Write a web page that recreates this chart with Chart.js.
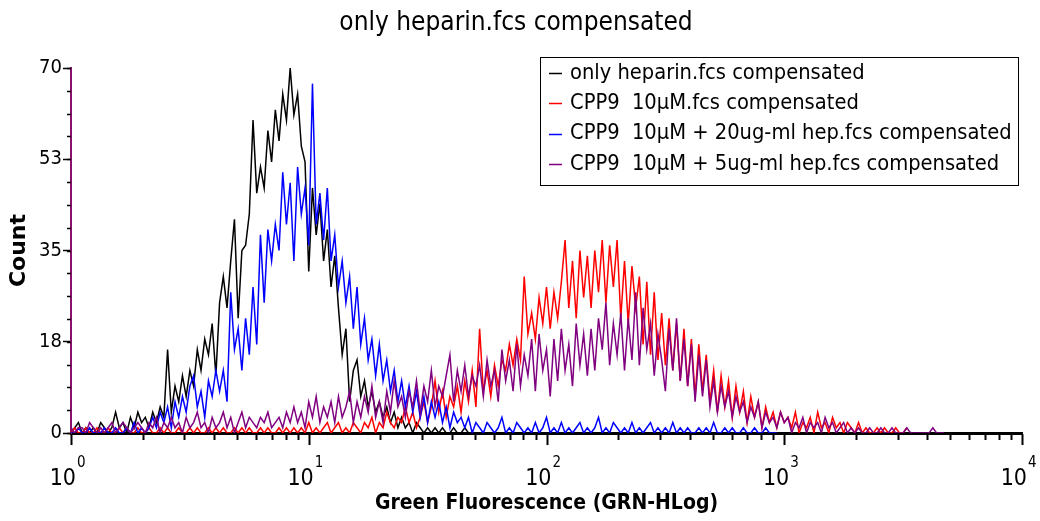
<!DOCTYPE html>
<html>
<head>
<meta charset="utf-8">
<script src="https://cdn.jsdelivr.net/npm/chart.js@4.4.1/dist/chart.umd.min.js"></script>
<style>
html, body { margin: 0; padding: 0; background: #fff; }
</style>
</head>
<body>
<canvas id="histo" width="1040" height="521"></canvas>
<script>
"use strict";

// channel layout of the log axis: 64 channels per decade, starting at 10^0
const CHANNELS_PER_DECADE = 64;
const X_DECADES = [1, 10, 100, 1000, 10000];
const Y_MAJOR = [0, 17.5, 35, 52.5, 70];

const SERIES_NAMES = [
    'only heparin.fcs compensated',
    'CPP9  10\u00b5M.fcs compensated',
    'CPP9  10\u00b5M + 20ug-ml hep.fcs compensated',
    'CPP9  10\u00b5M + 5ug-ml hep.fcs compensated'
];
const SERIES_COLORS = ['#000000', '#ff0000', '#0000ff', '#800080'];

// counts per channel
const ONLY_HEPARIN = [
    0,1,2,0,1,0,1,0,2,1, 0,1,4,1,2,0,3,1,4,2, 3,1,4,2,5,3,16,4,9,6,
    11,7,12,9,16,12,18,15,21,11, 25,30,24,33,41,22,35,36,42,60,
    46,51,47,58,52,62,56,65,60,70, 61,65,55,52,31,47,38,44,33,39,
    28,34,24,15,20,6,12,14,7,10, 5,8,4,6,3,5,2,4,1,3,
    1,2,0,2,1,0,1,0,1,0, 1,0,0,1,0,0,1,0
];
const CPP9 = [
    0,1,0,0,1,0,0,1,0,0, 1,0,0,1,0,1,0,0,1,0, 0,1,0,0,1,0,1,0,0,1,
    0,0,1,0,1,0,0,1,0,1, 0,1,0,0,1,0,1,0,1,0, 0,1,0,1,0,0,1,0,1,0,
    1,0,1,0,2,0,1,0,1,2, 0,1,2,0,1,0,2,1,0,2, 1,3,0,2,1,4,2,1,3,2,
    5,2,4,1,3,6,2,5,10,4, 8,3,7,5,9,4,10,6,12,5, 20,8,12,7,13,9,14,12,17,13,
    18,14,30,19,23,18,26,21,28,20, 27,22,29,37,24,33,22,35,26,34,
    24,35,27,37,25,36,28,37,22,33, 21,32,24,30,17,29,15,27,14,23,
    13,22,12,21,10,20,9,18,7,17, 8,15,6,12,4,11,5,10,3,9,
    4,8,2,7,3,6,1,5,2,4, 1,4,2,3,1,4,0,2,1,3, 0,4,1,2,0,3,1,2,0,2,
    1,0,2,0,1,0,0,1,0,1, 0,0,1,0,0,1
];
const CPP9_HEP20 = [
    0,0,1,0,0,1,0,0,0,1, 0,0,1,0,0,1,0,2,0,1, 0,1,3,1,4,2,5,1,6,3,
    7,4,9,11,5,8,3,10,7,12, 8,12,6,27,16,20,12,22,15,28,
    17,38,25,39,33,40,35,50,40,48, 33,51,42,47,36,67,40,46,37,47,
    33,38,28,33,25,30,20,28,17,22, 14,18,11,17,10,14,8,12,6,10,
    5,9,4,8,3,7,2,6,3,6, 2,5,1,4,2,3,1,3,0,2, 1,0,2,1,0,1,3,0,1,0,
    2,1,0,1,0,2,0,1,3,0, 1,0,2,0,1,0,1,2,0,1, 0,1,3,0,1,0,2,1,0,1,
    0,2,0,1,0,1,2,0,1,0, 1,0,2,0,1,0,1,0,0,1, 0,1,0,2,0,0,1,0,1,0,
    0,1,0,0,1,0,0,1,0,0,0
];
const CPP9_HEP5 = [
    1,0,1,1,0,2,1,0,1,0, 1,2,0,1,2,1,0,1,2,1, 0,2,1,3,0,2,1,3,1,2,
    0,3,1,2,4,1,2,0,3,1, 2,4,1,3,0,2,4,1,3,2, 1,3,2,4,1,2,3,1,4,2,
    5,2,4,1,6,3,7,2,5,3, 6,2,7,3,5,8,2,6,3,7, 4,9,3,6,2,8,4,10,5,7,
    3,8,5,10,4,9,6,12,5,9, 7,11,15,6,12,8,13,7,11,9, 13,7,14,9,12,6,16,10,14,8,
    17,9,15,11,18,8,19,12,16,7, 18,10,20,12,17,9,21,13,19,11,
    20,12,22,16,25,13,21,15,23,12, 22,14,27,13,24,16,21,11,19,14,
    8,20,12,22,10,18,9,17,6,15, 7,14,5,10,4,9,5,8,3,7,
    4,6,2,5,3,6,1,4,2,3, 1,4,2,3,0,2,1,3,0,2, 1,2,0,3,1,2,0,1,2,0,
    1,0,1,0,0,1,0,0,1,0, 0,1,0,0,0,1,0,0,0,0, 0,0,1,0,0,0
];

const FONT = "'DejaVu Sans Condensed', 'DejaVu Sans', sans-serif";

function toPoints(counts) {
    return counts.map(function(c, i) {
        return { x: Math.pow(10, i / CHANNELS_PER_DECADE), y: c };
    });
}

const SERIES = [ONLY_HEPARIN, CPP9, CPP9_HEP20, CPP9_HEP5];
// drawing order: black bottom, purple on top
const DRAW_ORDER = [4, 3, 2, 1];

const datasets = SERIES.map(function(s, k) {
    return {
        label: SERIES_NAMES[k],
        data: toPoints(s),
        borderColor: SERIES_COLORS[k],
        borderWidth: 1.5,
        pointRadius: 0,
        tension: 0,
        fill: false,
        order: DRAW_ORDER[k]
    };
});

const decorPlugin = {
    id: 'decor',
    afterDraw: function(chart) {
        const ctx = chart.ctx;
        const xs = chart.scales.x;
        const ys = chart.scales.y;
        ctx.save();
        ctx.strokeStyle = '#000';
        ctx.fillStyle = '#000';

        // x ticks, major at decades, minor between
        X_DECADES.forEach(function(d, k) {
            for (let m = 1; m <= 9; m++) {
                if (k === X_DECADES.length - 1 && m > 1) break;
                const px = Math.round(xs.getPixelForValue(d * m)) + 0.5;
                const len = m === 1 ? 11 : 6;
                ctx.lineWidth = 2;
                ctx.beginPath();
                ctx.moveTo(px, ys.bottom + 1);
                ctx.lineTo(px, ys.bottom + 1 + len);
                ctx.stroke();
            }
        });

        // x labels 10^k
        X_DECADES.forEach(function(d, k) {
            const px = xs.getPixelForValue(d);
            ctx.font = "23px " + FONT;
            ctx.textAlign = 'right';
            ctx.textBaseline = 'alphabetic';
            ctx.fillText('10', px + 5, 485);
            ctx.font = "15px " + FONT;
            ctx.textAlign = 'left';
            ctx.fillText(String(k), px + 6, 467);
        });

        // y minor ticks
        ctx.lineWidth = 1.5;
        for (let v = 0; v <= 70.01; v += 70 / 16) {
            const py = Math.round(ys.getPixelForValue(v)) + 0.5;
            ctx.beginPath();
            ctx.moveTo(xs.left - 4, py);
            ctx.lineTo(xs.left, py);
            ctx.stroke();
        }

        // legend box
        const bx = 540.5, by = 57.5, bw = 478, bh = 128;
        ctx.fillStyle = '#fff';
        ctx.fillRect(bx, by, bw, bh);
        ctx.lineWidth = 1;
        ctx.strokeStyle = '#000';
        ctx.strokeRect(bx, by, bw, bh);
        ctx.font = "21.7px " + FONT;
        ctx.textAlign = 'left';
        ctx.textBaseline = 'middle';
        SERIES_NAMES.forEach(function(name, k) {
            const ly = 73 + k * 30.3;
            ctx.strokeStyle = SERIES_COLORS[k];
            ctx.lineWidth = 1.5;
            ctx.beginPath();
            ctx.moveTo(549, Math.round(ly) + 0.5);
            ctx.lineTo(562, Math.round(ly) + 0.5);
            ctx.stroke();
            ctx.fillStyle = '#000';
            ctx.fillText(name, 570, ly);
        });
        ctx.restore();
    }
};

Chart.defaults.font.family = FONT;
Chart.defaults.color = '#000';

new Chart(document.getElementById('histo').getContext('2d'), {
    type: 'line',
    data: { datasets: datasets },
    options: {
        responsive: false,
        animation: false,
        layout: { padding: { left: 10, right: 18, top: 0, bottom: 0 } },
        plugins: {
            legend: { display: false },
            tooltip: { enabled: false },
            title: {
                display: true,
                text: 'only heparin.fcs compensated',
                font: { size: 26, weight: 'normal', lineHeight: 1.2 },
                color: '#000',
                padding: { top: 8, bottom: 28.8 }
            }
        },
        scales: {
            x: {
                type: 'logarithmic',
                min: 1,
                max: 10000,
                afterFit: function(scale) { scale.height = 88; },
                grid: { display: false },
                border: { display: true, color: '#000', width: 3 },
                ticks: { display: false },
                title: {
                    display: true,
                    text: 'Green Fluorescence (GRN-HLog)',
                    font: { size: 21, weight: 'bold' },
                    padding: { top: 0, bottom: 5 }
                }
            },
            y: {
                type: 'linear',
                min: 0,
                max: 70,
                afterFit: function(scale) { scale.width = 61; },
                afterBuildTicks: function(scale) {
                    scale.ticks = Y_MAJOR.map(function(v) { return { value: v }; });
                },
                grid: { display: true, drawOnChartArea: false, drawTicks: true, tickLength: 8, tickColor: '#000', tickWidth: 1.5 },
                border: { display: true, color: '#8a1070', width: 2 },
                ticks: {
                    font: { size: 20 },
                    padding: 1,
                    callback: function(v) { return String(Math.round(v)); }
                },
                title: {
                    display: true,
                    text: 'Count',
                    font: { family: "'DejaVu Sans', sans-serif", size: 22, weight: 'bold', lineHeight: 1 },
                    padding: { top: -2, bottom: 0 }
                }
            }
        }
    },
    plugins: [decorPlugin]
});
</script>
</body>
</html>
